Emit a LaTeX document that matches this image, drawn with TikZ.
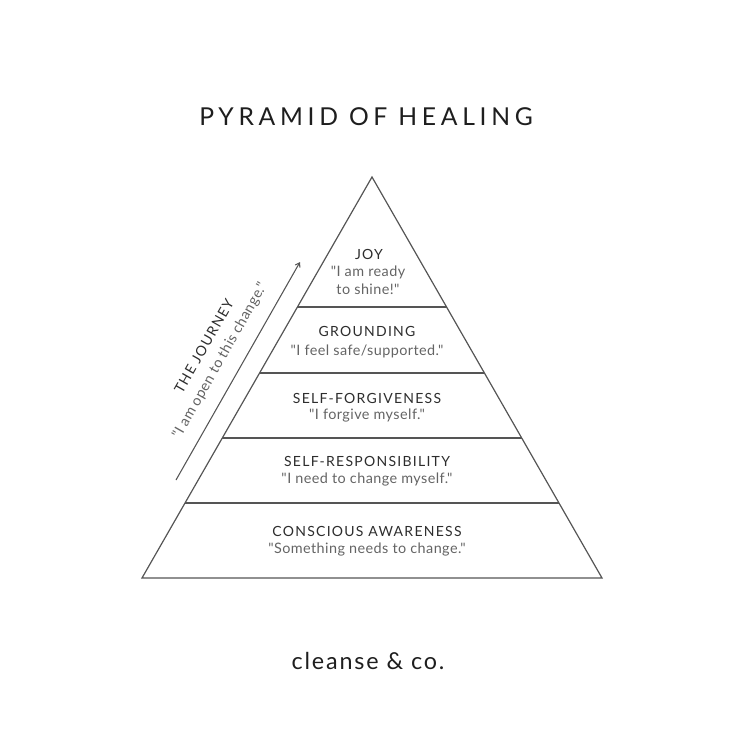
\documentclass[tikz,border=0pt]{standalone}
\usepackage{fontspec}
\usetikzlibrary{arrows.meta}
\setmainfont{Lato}
\newfontfamily\titlefont[LetterSpace=19]{Lato}
\newfontfamily\tierfont[LetterSpace=9]{Lato}
\newfontfamily\quotefont[LetterSpace=3]{Lato}
\newfontfamily\brandfont[LetterSpace=8]{Lato}
\newcommand\dq{\char34\relax}
\definecolor{edgegrey}{RGB}{85,85,85}
\definecolor{titleink}{RGB}{30,30,30}
\definecolor{tierink}{RGB}{45,45,45}
\definecolor{quoteink}{RGB}{100,100,100}

\tikzset{every picture/.style={line width=0.75pt}}
\tikzset{
  tiername/.style={anchor=center,inner sep=0.75pt,font=\tierfont\fontsize{10.5}{12}\selectfont,text=tierink},
  tierquote/.style={anchor=center,inner sep=0.75pt,font=\quotefont\fontsize{10.8}{13.5}\selectfont,text=quoteink,align=center},
  tierline/.style={draw=edgegrey,line width=0.9pt}
}

\begin{document}
\begin{tikzpicture}[x=0.75pt,y=0.75pt,yscale=-1,xscale=1]
%set diagram size to 736 x 736
\useasboundingbox (0,0) rectangle (736,736);

% Title
\node (title) at (366,117) [inner sep=0.75pt,font=\titlefont\fontsize{18.5}{22}\selectfont,text=titleink] {PYRAMID OF HEALING};

%Shape: Triangle
\coordinate (apex) at (372,177);
\coordinate (bl) at (142,578);
\coordinate (br) at (602,578);
\draw [tierline] (apex) -- (bl) -- (br) -- cycle;

%Straight Lines (tier borders)
\coordinate (t1l) at (297.4,307);
\coordinate (t1r) at (446.6,307);
\coordinate (t2l) at (259.6,373);
\coordinate (t2r) at (484.4,373);
\coordinate (t3l) at (222.3,438);
\coordinate (t3r) at (521.7,438);
\coordinate (t4l) at (185.0,503);
\coordinate (t4r) at (559.0,503);
\draw [tierline] (t1l) -- (t1r);
\draw [tierline] (t2l) -- (t2r);
\draw [tierline] (t3l) -- (t3r);
\draw [tierline] (t4l) -- (t4r);

%Arrow: the journey
\coordinate (jstart) at (176,480);
\coordinate (jend) at (300,262);
\draw [edgegrey,line width=0.8pt,-{Straight Barb[length=3pt,width=4pt]}] (jstart) -- (jend);

% Text Node
\node (journey) at (204,346) [rotate=60.4,tiername] {THE JOURNEY};
% Text Node
\node (journeyq) at (220,361) [rotate=60.4,tierquote] {\dq I am open to this change.\dq};

% Text Node
\node (joy) at (369,254) [tiername] {JOY};
% Text Node
\node (joyq) at (368,280) [tierquote] {\dq I am ready\\to shine!\dq};
% Text Node
\node (ground) at (367,331) [tiername] {GROUNDING};
% Text Node
\node (groundq) at (367,351) [tierquote] {\dq I feel safe/supported.\dq};
% Text Node
\node (forgive) at (367,398) [tiername] {SELF-FORGIVENESS};
% Text Node
\node (forgiveq) at (367,416) [tierquote] {\dq I forgive myself.\dq};
% Text Node
\node (resp) at (367,461) [tiername] {SELF-RESPONSIBILITY};
% Text Node
\node (respq) at (367,480) [tierquote] {\dq I need to change myself.\dq};
% Text Node
\node (aware) at (367,531) [tiername] {CONSCIOUS AWARENESS};
% Text Node
\node (awareq) at (367,550) [tierquote] {\dq Something needs to change.\dq};

% Text Node
\node (brand) at (368,661) [inner sep=0.75pt,font=\brandfont\fontsize{17.5}{20}\selectfont,text=titleink] {cleanse \& co.};

\end{tikzpicture}
\end{document}
